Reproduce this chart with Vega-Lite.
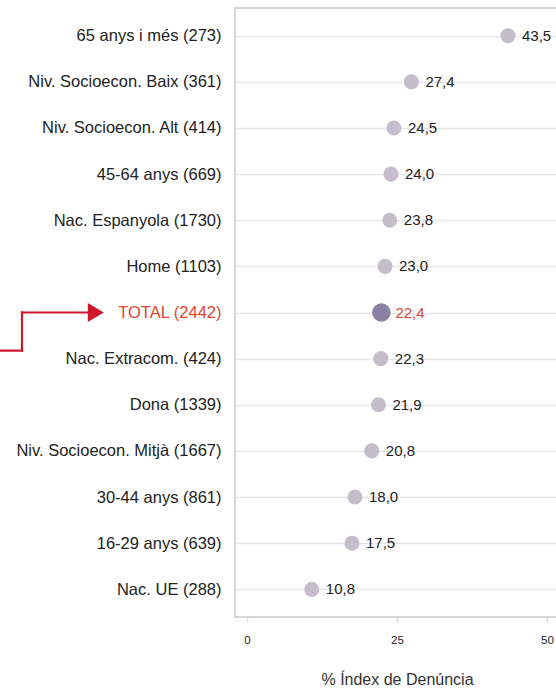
{
  "$schema": "https://vega.github.io/schema/vega-lite/v6.json",
  "autosize": {"type": "none"},
  "padding": {"left": 235, "top": 8, "right": 0, "bottom": 72},
  "width": 324,
  "height": 609,
  "config": {
    "font": "Liberation Sans",
    "view": {"stroke": "#c9c9c9", "strokeWidth": 1.5},
    "locale": {"number": {"decimal": ",", "thousands": ".", "grouping": [3], "currency": ["", " €"]}}
  },
  "datasets": {
    "main": [
      {"cat": "65 anys i més (273)", "value": 43.5},
      {"cat": "Niv. Socioecon. Baix (361)", "value": 27.4},
      {"cat": "Niv. Socioecon. Alt (414)", "value": 24.5},
      {"cat": "45-64 anys (669)", "value": 24.0},
      {"cat": "Nac. Espanyola (1730)", "value": 23.8},
      {"cat": "Home (1103)", "value": 23.0},
      {"cat": "TOTAL (2442)", "value": 22.4},
      {"cat": "Nac. Extracom. (424)", "value": 22.3},
      {"cat": "Dona (1339)", "value": 21.9},
      {"cat": "Niv. Socioecon. Mitjà (1667)", "value": 20.8},
      {"cat": "30-44 anys (861)", "value": 18.0},
      {"cat": "16-29 anys (639)", "value": 17.5},
      {"cat": "Nac. UE (288)", "value": 10.8}
    ]
  },
  "encoding": {
    "y": {
      "field": "cat",
      "type": "nominal",
      "sort": null,
      "scale": {
        "type": "point",
        "domain": ["65 anys i més (273)", "Niv. Socioecon. Baix (361)", "Niv. Socioecon. Alt (414)", "45-64 anys (669)", "Nac. Espanyola (1730)", "Home (1103)", "TOTAL (2442)", "Nac. Extracom. (424)", "Dona (1339)", "Niv. Socioecon. Mitjà (1667)", "30-44 anys (861)", "16-29 anys (639)", "Nac. UE (288)"],
        "padding": 0.6
      },
      "axis": {
        "title": null,
        "domain": false,
        "ticks": false,
        "labelPadding": 14,
        "labelFontSize": 16.5,
        "labelLimit": 0,
        "labelColor": {"condition": {"test": "datum.value === 'TOTAL (2442)'", "value": "#e0452f"}, "value": "#222222"},
        "grid": true,
        "gridColor": "#e6e6e6",
        "gridWidth": 1.5
      }
    }
  },
  "layer": [
    {
      "data": {"name": "main"},
      "mark": {"type": "circle", "opacity": 1},
      "encoding": {
        "x": {
          "field": "value",
          "type": "quantitative",
          "scale": {"domain": [-2, 52], "nice": false, "zero": false},
          "axis": {
            "title": "% Índex de Denúncia",
            "titleFontSize": 16,
            "titleFontWeight": "normal",
            "titleColor": "#333333",
            "titlePadding": 26,
            "values": [0, 25, 50],
            "grid": false,
            "domain": false,
            "tickColor": "#dddddd",
            "tickSize": 5,
            "tickWidth": 1.5,
            "labelFontSize": 11.5,
            "labelColor": "#222222",
            "labelPadding": 12
          }
        },
        "color": {"condition": {"test": "datum.cat === 'TOTAL (2442)'", "value": "#8b82a3"}, "value": "#c5bdcc"},
        "size": {"condition": {"test": "datum.cat === 'TOTAL (2442)'", "value": 346}, "value": 227}
      }
    },
    {
      "data": {"name": "main"},
      "mark": {"type": "text", "align": "left", "baseline": "middle", "dx": 14, "fontSize": 15},
      "encoding": {
        "x": {"field": "value", "type": "quantitative"},
        "text": {"field": "value", "type": "quantitative", "format": ".1f"},
        "color": {"condition": {"test": "datum.cat === 'TOTAL (2442)'", "value": "#e0452f"}, "value": "#222222"}
      }
    },
    {
      "data": {"values": [{"x": -37.5, "from": "TOTAL (2442)", "to": "Nac. Extracom. (424)"}]},
      "mark": {"type": "rule", "color": "#d0172e", "strokeWidth": 2.2, "y2Offset": -8, "strokeCap": "square"},
      "encoding": {
        "x": {"field": "x", "type": "quantitative"},
        "y": {"field": "from", "type": "nominal"},
        "y2": {"field": "to"}
      }
    },
    {
      "data": {"values": [{"x": -42, "x2": -37.5, "cat": "Nac. Extracom. (424)"}]},
      "mark": {"type": "rule", "color": "#d0172e", "strokeWidth": 2.2, "yOffset": -8, "strokeCap": "square"},
      "encoding": {
        "x": {"field": "x", "type": "quantitative"},
        "x2": {"field": "x2"}
      }
    },
    {
      "data": {"values": [{"x": -37.5, "x2": -26.5, "cat": "TOTAL (2442)"}]},
      "mark": {"type": "rule", "color": "#d0172e", "strokeWidth": 2.2, "strokeCap": "square"},
      "encoding": {
        "x": {"field": "x", "type": "quantitative"},
        "x2": {"field": "x2"}
      }
    },
    {
      "data": {"values": [{"x": -25.2, "cat": "TOTAL (2442)"}]},
      "mark": {"type": "point", "filled": true, "opacity": 1, "color": "#d0172e", "shape": "M-1,-1.2L1,0L-1,1.2Z", "size": 256},
      "encoding": {
        "x": {"field": "x", "type": "quantitative"}
      }
    }
  ]
}
